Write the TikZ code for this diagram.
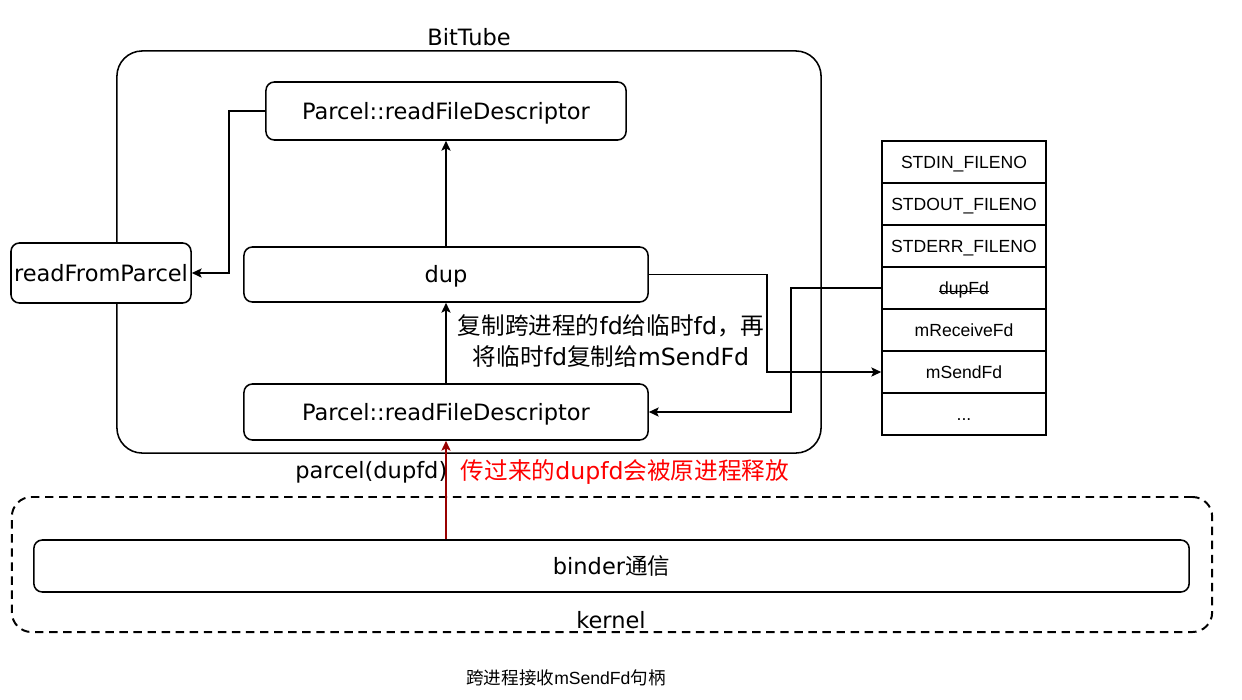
\documentclass[tikz,border=0pt]{standalone}
\usepackage{fontspec}
\setmainfont{DejaVu Sans}
\newfontfamily\cjk{Noto Sans CJK SC}
\newfontfamily\arialfont{Liberation Sans}
\usetikzlibrary{arrows.meta}

\definecolor{darkred}{RGB}{153,0,0}

\newcommand\strikeout[1]{\setbox0\hbox{#1}\rlap{\raisebox{0.3ex}{\rule{\wd0}{0.7pt}}}\box0}

\tikzset{
    >={Stealth[length=7pt,width=6.5pt,inset=1.5pt]},
    every path/.style={line width=1.1pt},
    box/.style={draw, fill=white, rounded corners=6pt, inner sep=0pt,
        text height=14pt, text depth=2pt, font=\fontsize{16}{19}\selectfont},
    cell/.style={draw, fill=white, minimum width=4.1cm, minimum height=1.05cm,
        inner sep=0pt, text height=9.5pt, text depth=0.5pt,
        font=\arialfont\fontsize{12.5}{15}\selectfont},
    plain/.style={inner sep=0pt, font=\fontsize{16}{19}\selectfont},
    cjknote/.style={inner sep=0pt, font=\fontsize{16.8}{19}\selectfont}
}

\begin{document}
\begin{tikzpicture}[x=0.025cm, y=-0.025cm]
        \useasboundingbox (0, 0) rectangle (1242, 699);

        % kernel
        \node (kernel) [draw, dashed, dash pattern=on 6pt off 4pt, line width=1.4pt,
            rounded corners=14pt, minimum width=30cm, minimum height=3.375cm] at (612, 564.5) {};
        \node (kernellbl) [plain] at (611, 620) {kernel};
        \node (binder) [box, minimum width=28.875cm, minimum height=1.3cm] at (611.5, 566) {binder{\cjk 通信}};

        % BitTube
        \node (bittube) [draw, rounded corners=18pt, minimum width=17.6cm, minimum height=10.05cm] at (469, 252) {};
        \node (bittubelbl) [plain] at (469, 37) {BitTube};

        \node (ptop) [box, minimum width=9cm, minimum height=1.45cm] at (446, 111) {Parcel::readFileDescriptor};
        \node (dup) [box, minimum width=10.1cm, minimum height=1.375cm] at (446, 274.5) {dup};
        \node (pbot) [box, minimum width=10.1cm, minimum height=1.4cm] at (446, 412) {Parcel::readFileDescriptor};
        \node (rfp) [box, minimum width=4.5cm, minimum height=1.5cm] at (101, 273) {readFromParcel};

        % fd table
        \node (stdin) [cell] at (964, 162) {STDIN\_FILENO};
        \node (stdout) [cell] at (964, 204) {STDOUT\_FILENO};
        \node (stderr) [cell] at (964, 246) {STDERR\_FILENO};
        \node (dupfd) [cell] at (964, 288) {\strikeout{dupFd}};
        \node (mrecv) [cell] at (964, 330) {mReceiveFd};
        \node (msend) [cell] at (964, 372) {mSendFd};
        \node (more) [cell] at (964, 414) {...};

        \draw [->] (dup) -- (ptop);
        \draw [->] (ptop.west) -- ++(-36, 0) |- (rfp.east);
        \draw [->] (pbot) -- (dup);
        \draw [->, darkred] (pbot |- binder.north) -- (pbot);
        \draw [->] (dup.east) -- ++(118, 0) |- (msend.west);
        \draw [->] (dupfd.west) -- ++(-90, 0) |- (pbot.east);

        \node (note) [cjknote, align=center] at (611, 341)
            {{\cjk 复制跨进程的}fd{\cjk 给临时}fd{\cjk ，再}\\[3pt]{\cjk 将临时}fd{\cjk 复制给}mSendFd};
        \node (parcel) [plain, anchor=east] at (448, 472) {parcel(dupfd)};
        \node (release) [cjknote, anchor=west, text=red] at (460, 472) {{\cjk 传过来的}dupfd{\cjk 会被原进程释放}};

        \node (caption) [inner sep=0pt, font=\arialfont\fontsize{12.5}{15}\selectfont] at (566, 678)
            {{\cjk 跨进程接收}mSendFd{\cjk 句柄}};
    \end{tikzpicture}
\end{document}
